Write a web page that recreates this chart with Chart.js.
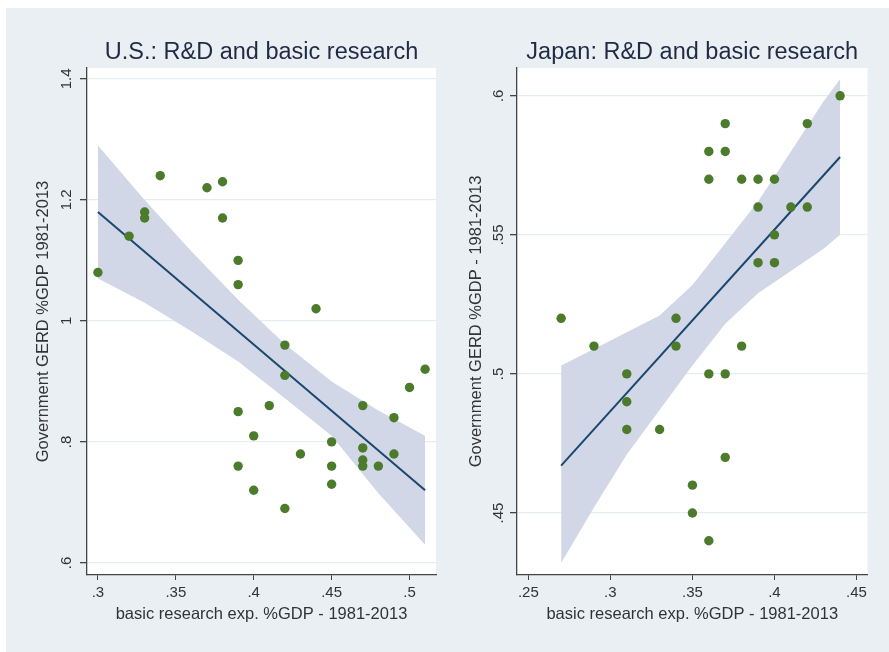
<!DOCTYPE html>
<html lang="en">
<head>
  <meta charset="UTF-8" />
  <title>R&amp;D and basic research</title>
  <script src="https://cdn.jsdelivr.net/npm/chart.js"></script>
  <style>
    body {
      margin: 0;
      background-color: #fff;
      font-family: "Liberation Sans", Arial, sans-serif;
    }
    #wrap {
      position: relative;
      width: 889px;
      height: 652px;
      overflow: hidden;
    }
    .bg {
      position: absolute;
      left: 6px;
      top: 8px;
      right: 0;
      bottom: 0;
      background-color: #e9eff3;
    }
    .box {
      position: absolute;
      top: 0;
      height: 652px;
    }
    #usBox { left: 0; width: 523px; }
    #jpBox { left: 460px; width: 464px; }
  </style>
</head>
<body>
  <div id="wrap">
    <div class="bg"></div>
    <div class="box" id="usBox"><canvas id="usChart"></canvas></div>
    <div class="box" id="jpBox"><canvas id="jpChart"></canvas></div>
  </div>

  <script>
    // U.S. observations, 1981-2013
    const usX = [0.30, 0.32, 0.33, 0.33, 0.34, 0.37, 0.38, 0.38, 0.39, 0.39, 0.44, 0.42, 0.42, 0.51, 0.50, 0.47,
                 0.41, 0.39, 0.49, 0.40, 0.45, 0.47, 0.43, 0.49, 0.47, 0.39, 0.45, 0.47, 0.48, 0.45, 0.40, 0.42];
    const usY = [1.08, 1.14, 1.18, 1.17, 1.24, 1.22, 1.23, 1.17, 1.10, 1.06, 1.02, 0.96, 0.91, 0.92, 0.89, 0.86,
                 0.86, 0.85, 0.84, 0.81, 0.80, 0.79, 0.78, 0.78, 0.77, 0.76, 0.76, 0.76, 0.76, 0.73, 0.72, 0.69];
    const usFitX = [0.30, 0.51];
    const usFitY = [1.18, 0.72];
    const usBandX = [0.30, 0.33, 0.36, 0.39, 0.42, 0.45, 0.48, 0.51];
    const usUpper = [1.29, 1.20, 1.115, 1.035, 0.962, 0.90, 0.852, 0.81];
    const usLower = [1.07, 1.03, 0.983, 0.933, 0.872, 0.81, 0.715, 0.63];
    const usXTicks = [0.30, 0.35, 0.40, 0.45, 0.50];
    const usYTicks = [0.6, 0.8, 1.0, 1.2, 1.4];

    // Japan observations, 1981-2013
    const jpX = [0.44, 0.37, 0.42, 0.36, 0.37, 0.36, 0.38, 0.39, 0.40, 0.39, 0.41, 0.42, 0.40, 0.39, 0.40,
                 0.27, 0.34, 0.29, 0.34, 0.38, 0.31, 0.36, 0.37, 0.31, 0.31, 0.33, 0.37, 0.35, 0.35, 0.36];
    const jpY = [0.60, 0.59, 0.59, 0.58, 0.58, 0.57, 0.57, 0.57, 0.57, 0.56, 0.56, 0.56, 0.55, 0.54, 0.54,
                 0.52, 0.52, 0.51, 0.51, 0.51, 0.50, 0.50, 0.50, 0.49, 0.48, 0.48, 0.47, 0.46, 0.45, 0.44];
    const jpFitX = [0.27, 0.44];
    const jpFitY = [0.467, 0.578];
    const jpBandX = [0.27, 0.29, 0.31, 0.33, 0.35, 0.37, 0.39, 0.41, 0.43, 0.44];
    const jpUpper = [0.503, 0.509, 0.515, 0.521, 0.532, 0.547, 0.562, 0.580, 0.598, 0.606];
    const jpLower = [0.432, 0.452, 0.471, 0.487, 0.503, 0.518, 0.529, 0.537, 0.545, 0.550];
    const jpXTicks = [0.25, 0.30, 0.35, 0.40, 0.45];
    const jpYTicks = [0.45, 0.50, 0.55, 0.60];

    const FONT = '"Liberation Sans", Arial, sans-serif';
    const pts = (xs, ys) => xs.map((x, i) => ({ x: x, y: ys[i] }));
    const fmt = v => String(+Number(v).toFixed(2)).replace(/^0\./, '.');

    // white plot region, like the Stata plot area
    const plotBg = {
      id: 'plotBg',
      afterLayout(chart) {
        // center the title over the plot region, not the whole canvas
        if (chart.titleBlock) {
          chart.titleBlock.left = chart.chartArea.left;
          chart.titleBlock.right = chart.chartArea.right;
        }
      },
      beforeDraw(chart) {
        const a = chart.chartArea;
        chart.ctx.save();
        chart.ctx.fillStyle = '#ffffff';
        chart.ctx.fillRect(a.left, a.top, a.right - a.left, a.bottom - a.top);
        chart.ctx.restore();
      }
    };

    function makeChart(id, cfg) {
      return new Chart(document.getElementById(id), {
        type: 'scatter',
        data: {
          datasets: [
            {
              data: pts(cfg.x, cfg.y),
              backgroundColor: '#4b7b2b',
              borderWidth: 0,
              pointRadius: 4.7,
            },
            {
              type: 'line',
              data: pts(cfg.fitX, cfg.fitY),
              borderColor: '#1a476f',
              borderWidth: 2,
              pointRadius: 0,
              fill: false,
            },
            {
              type: 'line',
              data: pts(cfg.bandX, cfg.upper),
              borderWidth: 0,
              pointRadius: 0,
              backgroundColor: '#d1d7e6',
              fill: '+1',
            },
            {
              type: 'line',
              data: pts(cfg.bandX, cfg.lower),
              borderWidth: 0,
              pointRadius: 0,
              fill: false,
            }
          ]
        },
        options: {
          responsive: true,
          maintainAspectRatio: false,
          animation: false,
          devicePixelRatio: 1,
          layout: { padding: cfg.padding },
          plugins: {
            legend: { display: false },
            tooltip: { enabled: false },
            title: {
              display: true,
              text: cfg.title,
              color: '#1f2a44',
              font: { family: FONT, size: 23.5, weight: 'normal', lineHeight: 1.2 },
              padding: { top: 38.9, bottom: 0.9 },
            }
          },
          scales: {
            x: {
              type: 'linear',
              min: cfg.xMin,
              max: cfg.xMax,
              afterBuildTicks: s => { s.ticks = cfg.xTicks.map(v => ({ value: v })); },
              afterFit: s => { s.height = 49; },
              grid: { drawOnChartArea: false, tickLength: 5, tickColor: '#444' },
              border: { color: '#444', width: 1.3 },
              ticks: {
                color: '#333',
                padding: 4,
                font: { family: FONT, size: 15 },
                maxRotation: 0,
                callback: v => fmt(v),
              },
              title: {
                display: true,
                text: 'basic research exp. %GDP - 1981-2013',
                color: '#333',
                padding: 0,
                font: { family: FONT, size: 16.5, lineHeight: 1.2 },
              }
            },
            y: {
              type: 'linear',
              min: cfg.yMin,
              max: cfg.yMax,
              afterBuildTicks: s => { s.ticks = cfg.yTicks.map(v => ({ value: v })); },
              afterFit: s => { s.width = cfg.yWidth; },
              grid: { color: '#e6edf1', lineWidth: 1.3, tickLength: 7, tickColor: '#444' },
              border: { color: '#444', width: 1.3 },
              ticks: {
                color: '#333',
                padding: cfg.yTickPad,
                font: { family: FONT, size: 15 },
                minRotation: 90,
                maxRotation: 90,
                crossAlign: 'center',
                callback: v => fmt(v),
              },
              title: {
                display: true,
                text: cfg.yTitle,
                color: '#333',
                padding: 0,
                font: { family: FONT, size: 16.5, lineHeight: 1.2 },
              }
            }
          }
        },
        plugins: [plotBg]
      });
    }

    makeChart('usChart', {
      title: 'U.S.: R&D and basic research',
      yTitle: 'Government GERD %GDP 1981-2013',
      x: usX, y: usY, fitX: usFitX, fitY: usFitY,
      bandX: usBandX, upper: usUpper, lower: usLower,
      xTicks: usXTicks, yTicks: usYTicks,
      xMin: 0.293, xMax: 0.517, yMin: 0.58, yMax: 1.418,
      padding: { left: 33.6, right: 87, top: 0, bottom: 28 },
      yWidth: 53.4, yTickPad: 2.6,
    });

    makeChart('jpChart', {
      title: 'Japan: R&D and basic research',
      yTitle: 'Government GERD %GDP - 1981-2013',
      x: jpX, y: jpY, fitX: jpFitX, fitY: jpFitY,
      bandX: jpBandX, upper: jpUpper, lower: jpLower,
      xTicks: jpXTicks, yTicks: jpYTicks,
      xMin: 0.2431, xMax: 0.4567, yMin: 0.4277, yMax: 0.610,
      padding: { left: 6.8, right: 56.5, top: 0, bottom: 28 },
      yWidth: 50.2, yTickPad: 0.6,
    });
  </script>
</body>
</html>
